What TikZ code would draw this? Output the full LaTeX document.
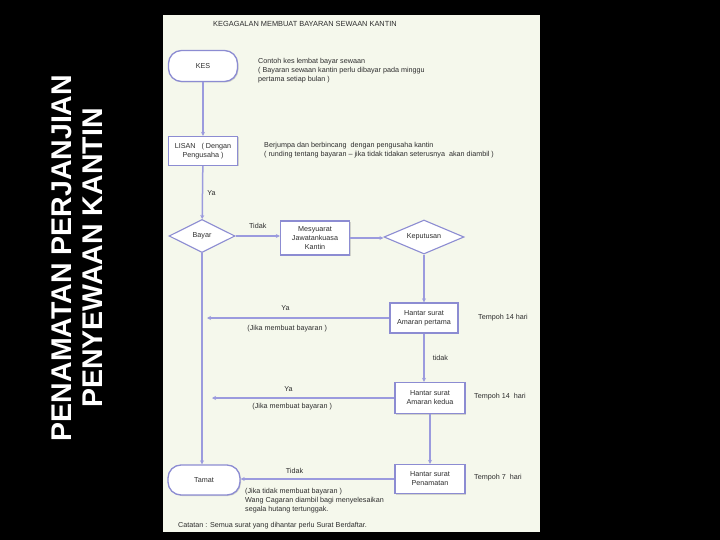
\documentclass[tikz,border=0pt]{standalone}
\usepackage{fontspec}
\setmainfont{Liberation Sans}
\usetikzlibrary{shapes.geometric,arrows.meta,shadows}

\definecolor{panel}{RGB}{245,248,236}
\definecolor{lineblue}{RGB}{155,155,222}
\definecolor{boxblue}{RGB}{140,140,210}
\definecolor{txt}{RGB}{45,45,45}

\begin{document}
\begin{tikzpicture}[x=1pt,y=-1pt,
  every node/.style={font=\fontsize{7.2}{9}\selectfont, text=txt},
  proc/.style={draw=boxblue, line width=1.3pt, fill=white, align=center, inner sep=1pt,
    drop shadow={shadow xshift=1pt,shadow yshift=-1pt,opacity=0.3}},
  term/.style={proc, rounded corners=13pt},
  dec/.style={diamond, draw=boxblue, line width=1.1pt, fill=white, inner sep=0pt, aspect=2},
  conn/.style={draw=lineblue, line width=1.5pt, -{Stealth[length=4pt,width=4pt]}},
  note/.style={anchor=west, align=left, inner sep=0pt},
  lbl/.style={inner sep=0pt}
]
\fill[black] (0,0) rectangle (720,540);
\fill[panel] (163,15) rectangle (540,532);
\useasboundingbox (0,0) rectangle (720,540);

% vertical title
\node[rotate=90, font=\bfseries\fontsize{28.5}{31}\selectfont, text=white, align=center, inner sep=0pt] (title) at (77.5,258) {PENAMATAN PERJANJIAN\\PENYEWAAN KANTIN};

% heading
\node[lbl, anchor=west, font=\fontsize{7.4}{9}\selectfont] (head) at (213,24) {KEGAGALAN MEMBUAT BAYARAN SEWAAN KANTIN};

% nodes
\node[term, minimum width=69pt, minimum height=31pt] (kes) at (203,66) {KES};
\node[proc, minimum width=69pt, minimum height=29pt] (lisan) at (203,151) {LISAN \ \ ( Dengan\\Pengusaha )};
\node[dec, minimum width=66pt, minimum height=33pt] (bayar) at (202,236) {Bayar};
\node[proc, minimum width=69pt, minimum height=34pt] (mesy) at (315,238) {Mesyuarat\\Jawatankuasa\\Kantin};
\node[dec, minimum width=80pt, minimum height=34pt] (kep) at (424,237) {Keputusan};
\node[proc, minimum width=68pt, minimum height=30pt] (am1) at (424,318) {Hantar surat\\Amaran pertama};
\node[proc, minimum width=70pt, minimum height=31pt] (am2) at (430,398) {Hantar surat\\Amaran kedua};
\node[proc, minimum width=70pt, minimum height=29pt] (pen) at (430,479) {Hantar surat\\Penamatan};
\node[term, minimum width=72pt, minimum height=30pt] (tamat) at (204,480) {Tamat};

% notes
\node[note] (n1) at (258,71) {Contoh kes lembat bayar sewaan\\( Bayaran sewaan kantin perlu dibayar pada minggu\\pertama setiap bulan )};
\node[note] (n2) at (264,150) {Berjumpa dan berbincang \ dengan pengusaha kantin\\( runding tentang bayaran -- jika tidak tidakan seterusnya \ akan diambil )};
\node[note] (n3) at (245,501) {(Jika tidak membuat bayaran )\\Wang Cagaran diambil bagi menyelesaikan\\segala hutang tertunggak.};
\node[note] (cat) at (178,526) {Catatan : Semua surat yang dihantar perlu Surat Berdaftar.};
\node[note] (t1) at (478,318) {Tempoh 14 hari};
\node[note] (t2) at (474,397) {Tempoh 14 \ hari};
\node[note] (t3) at (474,478) {Tempoh 7 \ hari};

% connectors
\coordinate (y1) at (207,318);
\coordinate (y2) at (212,398);
\draw[conn] (kes) -- (lisan);
\draw[conn] (lisan) -- node[lbl, anchor=west, xshift=4pt] {Ya} (bayar);
\draw[conn] (bayar.east) -- node[lbl, above=7pt] {Tidak} (mesy.west |- bayar.east);
\draw[conn] (mesy.east) -- (kep.west |- mesy.east);
\draw[conn] (kep) -- (am1);
\draw[conn] (am1.south) -- node[lbl, anchor=west, xshift=8pt] {tidak} (am2.north -| am1.south);
\draw[conn] (am2.south) -- (pen.north -| am2.south);
\draw[conn] (am1.west) -- node[lbl, pos=0.57, above=7pt] {Ya} node[lbl, pos=0.56, below=7pt] {(Jika membuat bayaran )} (y1);
\draw[conn] (am2.west) -- node[lbl, pos=0.58, above=6pt] {Ya} node[lbl, pos=0.56, below=5pt] {(Jika membuat bayaran )} (y2);
\draw[conn] (pen.west) -- node[lbl, pos=0.65, above=5pt] {Tidak} (tamat.east |- pen.west);
\draw[conn] (bayar.south) -- (tamat.north -| bayar.south);
\end{tikzpicture}
\end{document}
